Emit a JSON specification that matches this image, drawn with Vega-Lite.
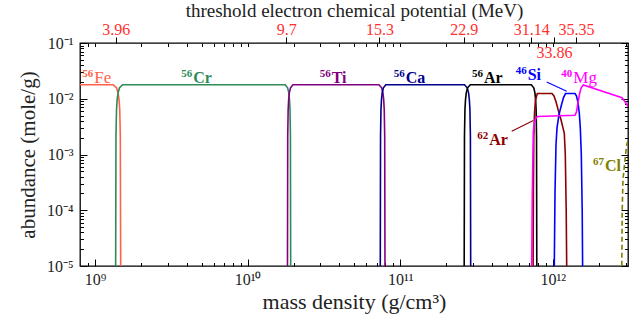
{
  "$schema": "https://vega.github.io/schema/vega-lite/v6.json",
  "width": 548,
  "height": 223,
  "autosize": {"type": "none"},
  "padding": {"left": 80, "top": 43, "right": 15, "bottom": 54},
  "config": {
    "view": {"stroke": "black", "strokeWidth": 1.3},
    "axis": {"grid": false, "domain": false, "tickColor": "black", "tickWidth": 1, "labelFont": "Liberation Serif", "labelFontSize": 16, "labelColor": "#222", "titleFont": "Liberation Serif", "titleFontWeight": "normal", "titleFontSize": 21, "titleColor": "#222", "labelOverlap": false, "labelFlush": false},
    "text": {"font": "Liberation Serif"}
  },
  "datasets": {
    "curves": [
      {"sp": "Fe56", "rho": 7.9e8, "ab": 0.01786}, {"sp": "Fe56", "rho": 1.316e9, "ab": 0.01786}, {"sp": "Fe56", "rho": 1.3838e9, "ab": 0.01572}, {"sp": "Fe56", "rho": 1.4173e9, "ab": 0.01286}, {"sp": "Fe56", "rho": 1.4381e9, "ab": 0.00964}, {"sp": "Fe56", "rho": 1.4532e9, "ab": 0.00643}, {"sp": "Fe56", "rho": 1.4662e9, "ab": 0.00214}, {"sp": "Fe56", "rho": 1.4771e9, "ab": 1e-6},
      {"sp": "Cr56", "rho": 1.3637e9, "ab": 1e-6}, {"sp": "Cr56", "rho": 1.3732e9, "ab": 0.00214}, {"sp": "Cr56", "rho": 1.3846e9, "ab": 0.00643}, {"sp": "Cr56", "rho": 1.398e9, "ab": 0.00964}, {"sp": "Cr56", "rho": 1.4177e9, "ab": 0.01286}, {"sp": "Cr56", "rho": 1.4492e9, "ab": 0.01572}, {"sp": "Cr56", "rho": 1.5188e9, "ab": 0.01786}, {"sp": "Cr56", "rho": 1.7636e10, "ab": 0.01786}, {"sp": "Cr56", "rho": 1.8297e10, "ab": 0.01572}, {"sp": "Cr56", "rho": 1.862e10, "ab": 0.01286}, {"sp": "Cr56", "rho": 1.8822e10, "ab": 0.00964}, {"sp": "Cr56", "rho": 1.8967e10, "ab": 0.00643}, {"sp": "Cr56", "rho": 1.9091e10, "ab": 0.00214}, {"sp": "Cr56", "rho": 1.9195e10, "ab": 1e-6},
      {"sp": "Ti56", "rho": 1.8228e10, "ab": 1e-6}, {"sp": "Ti56", "rho": 1.8327e10, "ab": 0.00214}, {"sp": "Ti56", "rho": 1.8447e10, "ab": 0.00643}, {"sp": "Ti56", "rho": 1.8589e10, "ab": 0.00964}, {"sp": "Ti56", "rho": 1.8789e10, "ab": 0.01286}, {"sp": "Ti56", "rho": 1.9121e10, "ab": 0.01572}, {"sp": "Ti56", "rho": 1.9838e10, "ab": 0.01786}, {"sp": "Ti56", "rho": 7.2619e10, "ab": 0.01786}, {"sp": "Ti56", "rho": 7.5594e10, "ab": 0.01572}, {"sp": "Ti56", "rho": 7.7046e10, "ab": 0.01286}, {"sp": "Ti56", "rho": 7.7958e10, "ab": 0.00964}, {"sp": "Ti56", "rho": 7.8618e10, "ab": 0.00643}, {"sp": "Ti56", "rho": 7.9165e10, "ab": 0.00214}, {"sp": "Ti56", "rho": 7.9644e10, "ab": 1e-6},
      {"sp": "Ca56", "rho": 7.3935e10, "ab": 1e-6}, {"sp": "Ca56", "rho": 7.435e10, "ab": 0.00214}, {"sp": "Ca56", "rho": 7.4833e10, "ab": 0.00643}, {"sp": "Ca56", "rho": 7.5423e10, "ab": 0.00964}, {"sp": "Ca56", "rho": 7.6259e10, "ab": 0.01286}, {"sp": "Ca56", "rho": 7.7618e10, "ab": 0.01572}, {"sp": "Ca56", "rho": 8.0588e10, "ab": 0.01786}, {"sp": "Ca56", "rho": 2.6384e11, "ab": 0.01786}, {"sp": "Ca56", "rho": 2.7503e11, "ab": 0.01572}, {"sp": "Ca56", "rho": 2.8048e11, "ab": 0.01286}, {"sp": "Ca56", "rho": 2.8393e11, "ab": 0.00964}, {"sp": "Ca56", "rho": 2.8638e11, "ab": 0.00643}, {"sp": "Ca56", "rho": 2.8846e11, "ab": 0.00214}, {"sp": "Ca56", "rho": 2.9025e11, "ab": 1e-6},
      {"sp": "Ar56", "rho": 2.6219e11, "ab": 1e-6}, {"sp": "Ar56", "rho": 2.6378e11, "ab": 0.00214}, {"sp": "Ar56", "rho": 2.657e11, "ab": 0.00643}, {"sp": "Ar56", "rho": 2.6795e11, "ab": 0.00964}, {"sp": "Ar56", "rho": 2.7116e11, "ab": 0.01286}, {"sp": "Ar56", "rho": 2.7645e11, "ab": 0.01572}, {"sp": "Ar56", "rho": 2.8798e11, "ab": 0.01786}, {"sp": "Ar56", "rho": 7.2292e11, "ab": 0.01786}, {"sp": "Ar56", "rho": 7.5004e11, "ab": 0.01572}, {"sp": "Ar56", "rho": 7.6327e11, "ab": 0.01286}, {"sp": "Ar56", "rho": 7.7149e11, "ab": 0.00964}, {"sp": "Ar56", "rho": 7.7744e11, "ab": 0.00643}, {"sp": "Ar56", "rho": 7.8251e11, "ab": 0.00214}, {"sp": "Ar56", "rho": 7.8677e11, "ab": 1e-6},
      {"sp": "Ar62", "rho": 7.395e11, "ab": 1e-6}, {"sp": "Ar62", "rho": 7.4285e11, "ab": 1e-5}, {"sp": "Ar62", "rho": 7.4625e11, "ab": 0.0002}, {"sp": "Ar62", "rho": 7.5075e11, "ab": 0.002}, {"sp": "Ar62", "rho": 7.587e11, "ab": 0.0055}, {"sp": "Ar62", "rho": 7.7027e11, "ab": 0.0095}, {"sp": "Ar62", "rho": 7.9145e11, "ab": 0.0124}, {"sp": "Ar62", "rho": 9.88e11, "ab": 0.0124}, {"sp": "Ar62", "rho": 1.0183e12, "ab": 0.0112}, {"sp": "Ar62", "rho": 1.0495e12, "ab": 0.0088}, {"sp": "Ar62", "rho": 1.0899e12, "ab": 0.006}, {"sp": "Ar62", "rho": 1.1317e12, "ab": 0.0042}, {"sp": "Ar62", "rho": 1.1664e12, "ab": 0.003}, {"sp": "Ar62", "rho": 1.1895e12, "ab": 0.0024}, {"sp": "Ar62", "rho": 1.2076e12, "ab": 0.001}, {"sp": "Ar62", "rho": 1.2241e12, "ab": 0.0001}, {"sp": "Ar62", "rho": 1.2334e12, "ab": 1e-5}, {"sp": "Ar62", "rho": 1.239e12, "ab": 1e-6},
      {"sp": "Si46", "rho": 1.0183e12, "ab": 1e-6}, {"sp": "Si46", "rho": 1.0229e12, "ab": 1e-5}, {"sp": "Si46", "rho": 1.0337e12, "ab": 0.0002}, {"sp": "Si46", "rho": 1.0495e12, "ab": 0.0015}, {"sp": "Si46", "rho": 1.0655e12, "ab": 0.003}, {"sp": "Si46", "rho": 1.0981e12, "ab": 0.0052}, {"sp": "Si46", "rho": 1.1403e12, "ab": 0.0078}, {"sp": "Si46", "rho": 1.1753e12, "ab": 0.0105}, {"sp": "Si46", "rho": 1.2113e12, "ab": 0.0124}, {"sp": "Si46", "rho": 1.398e12, "ab": 0.0124}, {"sp": "Si46", "rho": 1.43e12, "ab": 0.0112}, {"sp": "Si46", "rho": 1.4628e12, "ab": 0.0085}, {"sp": "Si46", "rho": 1.4917e12, "ab": 0.0055}, {"sp": "Si46", "rho": 1.5144e12, "ab": 0.003}, {"sp": "Si46", "rho": 1.5374e12, "ab": 0.001}, {"sp": "Si46", "rho": 1.5584e12, "ab": 0.0001}, {"sp": "Si46", "rho": 1.5679e12, "ab": 1e-5}, {"sp": "Si46", "rho": 1.5773e12, "ab": 1e-6},
      {"sp": "Mg40", "rho": 7.2292e11, "ab": 1e-6}, {"sp": "Mg40", "rho": 7.273e11, "ab": 1e-5}, {"sp": "Mg40", "rho": 7.3395e11, "ab": 0.0002}, {"sp": "Mg40", "rho": 7.451e11, "ab": 0.0025}, {"sp": "Mg40", "rho": 7.587e11, "ab": 0.0038}, {"sp": "Mg40", "rho": 7.761e11, "ab": 0.0045}, {"sp": "Mg40", "rho": 7.9385e11, "ab": 0.0048}, {"sp": "Mg40", "rho": 1.398e12, "ab": 0.00505}, {"sp": "Mg40", "rho": 1.43e12, "ab": 0.0058}, {"sp": "Mg40", "rho": 1.4628e12, "ab": 0.0085}, {"sp": "Mg40", "rho": 1.4962e12, "ab": 0.012}, {"sp": "Mg40", "rho": 1.5305e12, "ab": 0.0155}, {"sp": "Mg40", "rho": 1.5845e12, "ab": 0.0176}, {"sp": "Mg40", "rho": 2.8411e12, "ab": 0.0104}, {"sp": "Mg40", "rho": 2.9726e12, "ab": 0.0088}, {"sp": "Mg40", "rho": 3.134e12, "ab": 0.0072},
      {"sp": "Cl67", "rho": 2.824e12, "ab": 1e-6}, {"sp": "Cl67", "rho": 2.8325e12, "ab": 1e-5}, {"sp": "Cl67", "rho": 2.8497e12, "ab": 0.0001}, {"sp": "Cl67", "rho": 2.8843e12, "ab": 0.00036}, {"sp": "Cl67", "rho": 2.9726e12, "ab": 0.0008}, {"sp": "Cl67", "rho": 3.05e12, "ab": 0.0015}, {"sp": "Cl67", "rho": 3.134e12, "ab": 0.0019}
    ],
    "labels": [
      {"sp": "Fe56", "num": "56", "sym": "Fe", "x": 9.895e8, "y": 0.01881},
      {"sp": "Cr56", "num": "56", "sym": "Cr", "x": 4.407e9, "y": 0.01881},
      {"sp": "Ti56", "num": "56", "sym": "Ti", "x": 3.557e10, "y": 0.01881},
      {"sp": "Ca56", "num": "56", "sym": "Ca", "x": 1.0866e11, "y": 0.01881},
      {"sp": "Ar56", "num": "56", "sym": "Ar", "x": 3.541e11, "y": 0.01881},
      {"sp": "Si46", "num": "46", "sym": "Si", "x": 6.847e11, "y": 0.0213},
      {"sp": "Mg40", "num": "40", "sym": "Mg", "x": 1.3624e12, "y": 0.01881},
      {"sp": "Ar62", "num": "62", "sym": "Ar", "x": 3.836e11, "y": 0.001453},
      {"sp": "Cl67", "num": "67", "sym": "Cl", "x": 2.1985e12, "y": 0.000503}
    ],
    "pointers": [
      {"sp": "Si46", "x": 9.121e11, "x2": 1.2334e12, "y": 0.02001, "y2": 0.01369},
      {"sp": "Ar62", "x": 5.379e11, "x2": 7.451e11, "y": 0.002623, "y2": 0.00408}
    ],
    "thresholds": [
      {"rho": 1.3687e9, "mu": "3.96"},
      {"rho": 1.7932e10, "mu": "9.7"},
      {"rho": 7.317e10, "mu": "15.3"},
      {"rho": 2.6108e11, "mu": "22.9"},
      {"rho": 7.2182e11, "mu": "31.14"},
      {"rho": 1.026e12, "mu": "33.86"},
      {"rho": 1.4192e12, "mu": "35.35"}
    ]
  },
  "resolve": {"axis": {"x": "independent", "y": "independent"}},
  "layer": [
    {
      "data": {"name": "curves"},
      "transform": [{"filter": "datum.sp != 'Cl67'"}],
      "mark": {"type": "line", "strokeWidth": 1.6, "clip": true},
      "encoding": {
        "x": {"field": "rho", "type": "quantitative", "scale": {"type": "log", "domain": [7.98e8, 3.11e12], "nice": false},
          "axis": {"orient": "bottom", "title": "mass density (g/cm³)", "titlePadding": 1, "titleFontSize": 22,
            "values": [9e8, 1e9, 2e9, 3e9, 4e9, 5e9, 6e9, 7e9, 8e9, 9e9, 1e10, 2e10, 3e10, 4e10, 5e10, 6e10, 7e10, 8e10, 9e10, 1e11, 2e11, 3e11, 4e11, 5e11, 6e11, 7e11, 8e11, 9e11, 1e12, 2e12, 3e12],
            "labelExpr": "datum.value == 1e9 ? '10⁹' : datum.value == 1e10 ? '10¹⁰' : datum.value == 1e11 ? '10¹¹' : datum.value == 1e12 ? '10¹²' : ''",
            "tickSize": {"condition": {"test": "datum.value == 1e9 || datum.value == 1e10 || datum.value == 1e11 || datum.value == 1e12", "value": -7}, "value": -3.5},
            "labelPadding": 12}},
        "y": {"field": "ab", "type": "quantitative", "scale": {"type": "log", "domain": [1e-5, 0.1], "nice": false},
          "axis": {"orient": "left", "title": "abundance (mole/g)", "titlePadding": 8,
            "values": [1e-5, 2e-5, 3e-5, 4e-5, 5e-5, 6e-5, 7e-5, 8e-5, 9e-5, 1e-4, 2e-4, 3e-4, 4e-4, 5e-4, 6e-4, 7e-4, 8e-4, 9e-4, 1e-3, 2e-3, 3e-3, 4e-3, 5e-3, 6e-3, 7e-3, 8e-3, 9e-3, 1e-2, 2e-2, 3e-2, 4e-2, 5e-2, 6e-2, 7e-2, 8e-2, 9e-2, 1e-1],
            "labelExpr": "datum.value == 1e-1 ? '10⁻¹' : datum.value == 1e-2 ? '10⁻²' : datum.value == 1e-3 ? '10⁻³' : datum.value == 1e-4 ? '10⁻⁴' : datum.value == 1e-5 ? '10⁻⁵' : ''",
            "tickSize": {"condition": {"test": "datum.value == 1e-1 || datum.value == 1e-2 || datum.value == 1e-3 || datum.value == 1e-4 || datum.value == 1e-5", "value": -7}, "value": -3.5},
            "labelPadding": 14}},
        "color": {"field": "sp", "type": "nominal", "legend": null,
          "scale": {"domain": ["Fe56", "Cr56", "Ti56", "Ca56", "Ar56", "Ar62", "Si46", "Mg40", "Cl67"],
                    "range": ["#ff6347", "#2e8b57", "#800080", "#00008b", "#000000", "#8b0000", "#0000ff", "#ff00ff", "#808000"]}}
      }
    },
    {
      "data": {"name": "curves"},
      "transform": [{"filter": "datum.sp == 'Cl67'"}],
      "mark": {"type": "line", "strokeWidth": 1.6, "strokeDash": [5, 3], "clip": true},
      "encoding": {
        "x": {"field": "rho", "type": "quantitative", "axis": null},
        "y": {"field": "ab", "type": "quantitative",
          "axis": {"orient": "right", "title": null, "labels": false,
            "values": [1e-5, 2e-5, 3e-5, 4e-5, 5e-5, 6e-5, 7e-5, 8e-5, 9e-5, 1e-4, 2e-4, 3e-4, 4e-4, 5e-4, 6e-4, 7e-4, 8e-4, 9e-4, 1e-3, 2e-3, 3e-3, 4e-3, 5e-3, 6e-3, 7e-3, 8e-3, 9e-3, 1e-2, 2e-2, 3e-2, 4e-2, 5e-2, 6e-2, 7e-2, 8e-2, 9e-2, 1e-1],
            "tickSize": {"condition": {"test": "datum.value == 1e-1 || datum.value == 1e-2 || datum.value == 1e-3 || datum.value == 1e-4 || datum.value == 1e-5", "value": -7}, "value": -3.5}}},
        "color": {"field": "sp", "type": "nominal", "legend": null}
      }
    },
    {
      "data": {"name": "pointers"},
      "mark": {"type": "rule", "strokeWidth": 1.1},
      "encoding": {
        "x": {"field": "x", "type": "quantitative", "axis": null},
        "x2": {"field": "x2"},
        "y": {"field": "y", "type": "quantitative", "axis": null},
        "y2": {"field": "y2"},
        "color": {"field": "sp", "type": "nominal", "legend": null}
      }
    },
    {
      "data": {"name": "labels"},
      "transform": [{"filter": "datum.sp != 'Fe56' && datum.sp != 'Mg40'"}],
      "mark": {"type": "text", "align": "left", "baseline": "alphabetic", "fontSize": 16, "fontWeight": "bold"},
      "encoding": {
        "x": {"field": "x", "type": "quantitative", "axis": null},
        "y": {"field": "y", "type": "quantitative", "axis": null},
        "text": {"field": "sym"},
        "color": {"field": "sp", "type": "nominal", "legend": null}
      }
    },
    {
      "data": {"name": "labels"},
      "transform": [{"filter": "datum.sp == 'Fe56' || datum.sp == 'Mg40'"}],
      "mark": {"type": "text", "align": "left", "baseline": "alphabetic", "fontSize": 17},
      "encoding": {
        "x": {"field": "x", "type": "quantitative", "axis": null},
        "y": {"field": "y", "type": "quantitative", "axis": null},
        "text": {"field": "sym"},
        "color": {"field": "sp", "type": "nominal", "legend": null}
      }
    },
    {
      "data": {"name": "labels"},
      "mark": {"type": "text", "align": "right", "baseline": "alphabetic", "fontSize": 11, "fontWeight": "bold", "dx": -1, "dy": -6},
      "encoding": {
        "x": {"field": "x", "type": "quantitative", "axis": null},
        "y": {"field": "y", "type": "quantitative", "axis": null},
        "text": {"field": "num"},
        "color": {"field": "sp", "type": "nominal", "legend": null}
      }
    },
    {
      "data": {"name": "thresholds"},
      "transform": [{"filter": "datum.mu == '33.86'"}],
      "mark": {"type": "text", "align": "center", "baseline": "middle", "fontSize": 16, "color": "#ff3030"},
      "encoding": {
        "x": {"field": "rho", "type": "quantitative",
          "axis": {"orient": "top", "title": "threshold electron chemical potential (MeV)", "titlePadding": 1, "titleFontSize": 19,
            "values": [9e8, 1e9, 2e9, 3e9, 4e9, 5e9, 6e9, 7e9, 8e9, 9e9, 1e10, 2e10, 3e10, 4e10, 5e10, 6e10, 7e10, 8e10, 9e10, 1e11, 2e11, 3e11, 4e11, 5e11, 6e11, 7e11, 8e11, 9e11, 1e12, 2e12, 3e12, 1.3687e9, 1.7932e10, 7.317e10, 2.6108e11, 7.2182e11, 1.026e12, 1.4192e12],
            "labelExpr": "datum.value == 1.3687e9 ? '3.96' : datum.value == 1.7932e10 ? '9.7' : datum.value == 7.317e10 ? '15.3' : datum.value == 2.6108e11 ? '22.9' : datum.value == 7.2182e11 ? '31.14' : datum.value == 1.4192e12 ? '35.35' : ''",
            "labelColor": "#ff3030",
            "tickSize": {"condition": {"test": "indexof([1.3687e9, 1.7932e10, 7.317e10, 2.6108e11, 7.2182e11, 1.026e12, 1.4192e12], datum.value) >= 0", "value": 6}, "value": -3.5},
            "labelPadding": 0}},
        "y": {"datum": 0.0662, "type": "quantitative", "axis": null},
        "text": {"field": "mu"}
      }
    }
  ]
}
